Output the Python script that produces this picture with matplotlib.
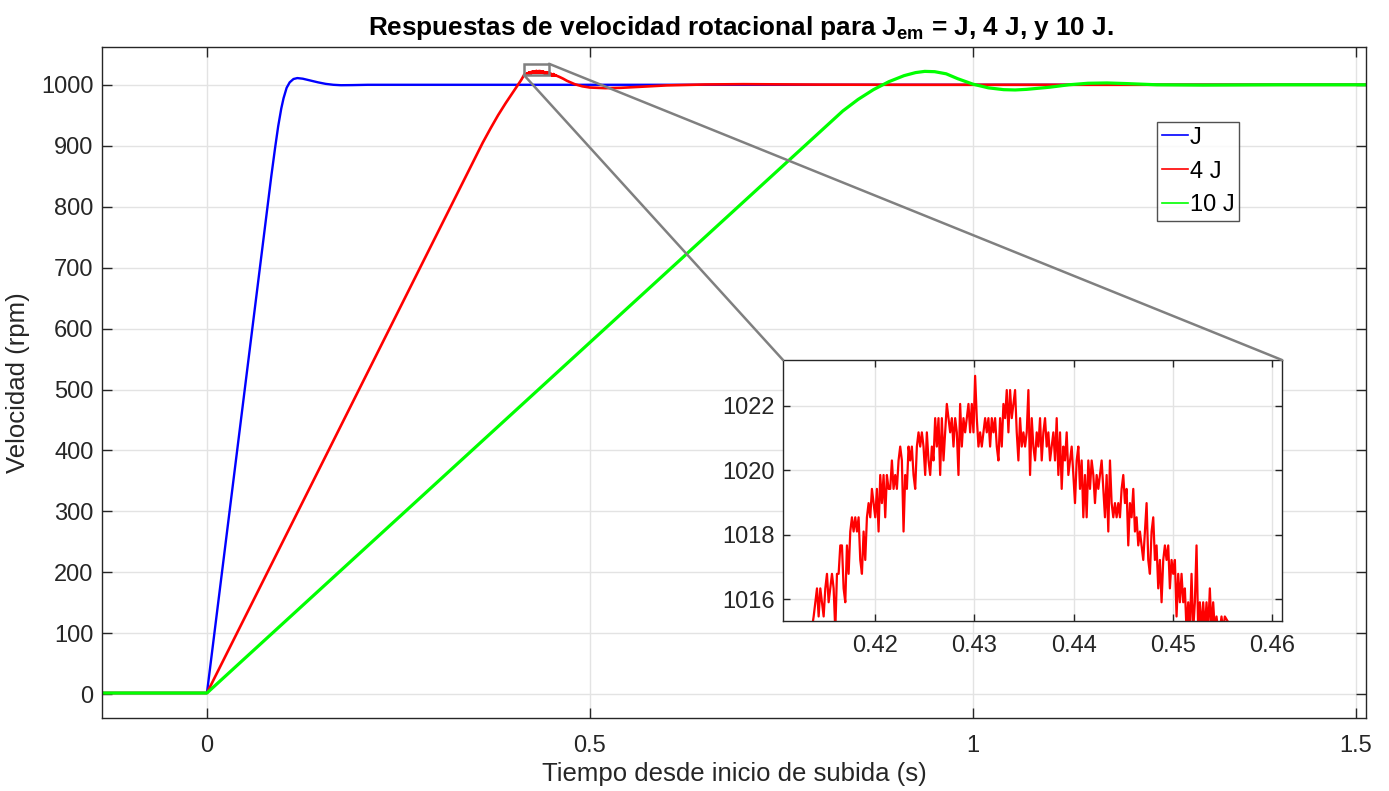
import numpy as np
import matplotlib
matplotlib.use("Agg")
import matplotlib.pyplot as plt
from matplotlib.patches import Rectangle, ConnectionPatch

plt.rcParams['font.family'] = ['Liberation Sans', 'DejaVu Sans']
plt.rcParams['mathtext.fontset'] = 'custom'
plt.rcParams['mathtext.rm'] = 'Liberation Sans'
plt.rcParams['mathtext.bf'] = 'Liberation Sans:bold'

# ---- speed responses (time in s, speed in rpm) ----
j_t = [-0.137, 0.0, 0.084, 0.089, 0.093, 0.097, 0.100, 0.104, 0.108, 0.113, 0.118,
       0.125, 0.135, 0.145, 0.155, 0.165, 0.175, 0.190, 0.210, 1.513]
j_v = [2, 2, 850, 897, 932, 961, 978, 995, 1004, 1009.5, 1011,
       1010, 1007, 1004, 1001.5, 1000, 999.3, 999.5, 1000, 1000]

j4_rise_t = [-0.137, 0.0, 0.360, 0.370, 0.380, 0.390, 0.398, 0.405, 0.410]
j4_rise_v = [2, 2, 905, 928, 950, 970, 985, 998, 1007.5]

# 4 J samples around the overshoot peak
j4_peak_t0 = 0.41379
j4_peak_dt = 1.678e-4
j4_peak_v = [
    1015.47, 1015.91, 1016.34, 1015.47, 1016.34, 1015.91, 1015.47, 1016.34, 1016.79, 1015.91,
    1016.34, 1016.79, 1016.34, 1015.03, 1016.79, 1016.79, 1017.67, 1017.67, 1016.34, 1015.91,
    1017.67, 1016.79, 1018.10, 1018.54, 1018.10, 1018.54, 1018.10, 1018.54, 1017.22, 1016.79,
    1018.10, 1017.22, 1018.54, 1018.98, 1018.54, 1019.42, 1018.98, 1018.54, 1019.42, 1018.10,
    1019.85, 1018.98, 1019.85, 1018.54, 1019.85, 1019.42, 1019.42, 1020.30, 1019.42, 1019.85,
    1019.42, 1020.30, 1020.73, 1020.30, 1018.10, 1019.85, 1019.42, 1020.73, 1020.30, 1020.73,
    1019.85, 1019.42, 1020.73, 1021.17, 1020.73, 1021.17, 1020.73, 1019.85, 1021.17, 1020.30,
    1019.85, 1020.73, 1020.30, 1021.61, 1020.73, 1021.61, 1019.85, 1021.61, 1020.30, 1021.17,
    1022.05, 1021.61, 1021.17, 1021.61, 1020.73, 1021.61, 1021.17, 1019.85, 1022.05, 1020.73,
    1021.61, 1021.17, 1021.61, 1022.05, 1021.17, 1022.05, 1021.17, 1022.92, 1021.61, 1020.73,
    1021.17, 1020.73, 1021.17, 1021.61, 1021.17, 1021.61, 1020.73, 1021.61, 1021.17, 1021.61,
    1020.73, 1020.30, 1021.61, 1020.73, 1022.05, 1021.61, 1022.48, 1021.17, 1022.48, 1021.61,
    1022.05, 1022.48, 1021.17, 1020.30, 1021.61, 1020.73, 1021.17, 1020.73, 1021.17, 1022.48,
    1019.85, 1021.61, 1020.73, 1020.30, 1021.17, 1020.73, 1021.61, 1020.30, 1021.17, 1021.61,
    1020.73, 1021.17, 1020.30, 1020.73, 1021.17, 1020.30, 1021.61, 1019.85, 1021.17, 1019.42,
    1020.73, 1020.30, 1021.17, 1019.85, 1020.30, 1020.73, 1019.85, 1018.98, 1020.30, 1020.73,
    1019.42, 1020.30, 1018.54, 1019.85, 1018.54, 1020.30, 1019.42, 1020.30, 1019.85, 1018.98,
    1019.85, 1019.42, 1019.85, 1020.30, 1019.42, 1018.54, 1019.85, 1018.10, 1020.30, 1018.98,
    1018.54, 1018.98, 1018.54, 1018.98, 1018.54, 1019.42, 1019.85, 1018.98, 1019.42, 1017.67,
    1018.98, 1018.54, 1019.42, 1018.10, 1018.54, 1017.67, 1018.10, 1017.67, 1017.22, 1018.10,
    1018.98, 1017.22, 1016.79, 1018.10, 1018.54, 1017.22, 1017.67, 1016.34, 1017.22, 1015.91,
    1017.22, 1017.67, 1017.22, 1017.67, 1016.34, 1017.22, 1016.79, 1017.22, 1015.47, 1016.79,
    1015.91, 1016.79, 1015.91, 1016.34, 1015.03, 1015.91, 1015.03, 1016.79, 1015.03, 1015.91,
    1017.67, 1015.03, 1015.91, 1015.03, 1015.91, 1015.03, 1015.91, 1015.03, 1016.34, 1015.03,
    1015.91, 1015.03, 1015.47, 1015.03, 1015.03, 1015.47, 1015.03, 1015.47,
]

j4_tail_t = [0.460, 0.465, 0.470, 0.480, 0.490, 0.500, 0.520, 0.540, 0.570, 0.600,
             0.650, 0.700, 0.800, 0.900, 1.513]
j4_tail_v = [1013, 1010, 1006.5, 1001, 997.5, 995.5, 994.5, 995, 997, 999,
             1000.5, 1001, 1000.3, 1000, 1000]

j10_t = [-0.137, 0.0, 0.830, 0.850, 0.870, 0.890, 0.910, 0.925, 0.937, 0.950,
         0.965, 0.980, 1.000, 1.020, 1.040, 1.055, 1.070, 1.100, 1.125, 1.150,
         1.175, 1.200, 1.240, 1.300, 1.400, 1.513]
j10_v = [2, 2, 957, 976, 992, 1005, 1015, 1020, 1022, 1021.5,
         1018, 1010, 1001, 995, 992, 991.5, 992.5, 996, 1000, 1002.5,
         1003, 1002, 1000, 999.5, 1000, 1000]

labels = ['J', '4 J', '10 J']
colors = ['#0000ff', '#ff0000', '#00ff00']

x_ticks = [0, 0.5, 1, 1.5]
x_ticklabels = ['0', '0.5', '1', '1.5']
y_ticks = list(range(0, 1001, 100))
inset_x_ticks = [0.42, 0.43, 0.44, 0.45, 0.46]
inset_x_ticklabels = ['0.42', '0.43', '0.44', '0.45', '0.46']
inset_y_ticks = [1016, 1018, 1020, 1022]

# assemble the 4 J trace
j4_peak_t = j4_peak_t0 + j4_peak_dt * np.arange(len(j4_peak_v))
j4_t = np.concatenate([j4_rise_t, j4_peak_t, j4_tail_t])
j4_v = np.concatenate([j4_rise_v, j4_peak_v, j4_tail_v])

W, H = 1389, 791
fig = plt.figure(figsize=(W / 100, H / 100), dpi=100)
ax = fig.add_axes([102 / W, 1 - 718 / H, (1366 - 102) / W, (718 - 47) / H])

ax.plot(j_t, j_v, color=colors[0], lw=1.7, label=labels[0])
ax.plot(j4_t, j4_v, color=colors[1], lw=1.9, label=labels[1])
ax.plot(j10_t, j10_v, color=colors[2], lw=2.3, label=labels[2])

ax.set_xlim(-0.137, 1.513)
ax.set_ylim(-39, 1062)
ax.set_xticks(x_ticks)
ax.set_xticklabels(x_ticklabels)
ax.set_yticks(y_ticks)

axis_col = '#262626'
for s in ax.spines.values():
    s.set_color(axis_col)
    s.set_linewidth(1.0)
ax.tick_params(direction='in', length=7, width=1.0, colors=axis_col,
               labelsize=17, top=True, right=True)
ax.tick_params(axis='x', pad=12)
ax.tick_params(axis='y', pad=6)
ax.grid(True, color='#e3e3e3', lw=1.0)
ax.set_axisbelow(True)

ax.set_xlabel('Tiempo desde inicio de subida (s)', fontsize=18.5, color=axis_col, labelpad=4)
ax.set_ylabel('Velocidad (rpm)', fontsize=18.5, color=axis_col, labelpad=8)
ax.set_title(r'Respuestas de velocidad rotacional para J$_{\mathbf{em}}$ = J, 4 J, y 10 J.',
             fontsize=18.8, fontweight='bold', pad=9, x=0.5055)

leg = ax.legend(loc='upper left', bbox_to_anchor=(1157 / W, 1 - 122 / H),
                bbox_transform=fig.transFigure, fontsize=17, frameon=True,
                fancybox=False, handlelength=1.1, handletextpad=0.1,
                labelspacing=0.5, borderpad=0.2, borderaxespad=0)
leg.get_frame().set_edgecolor(axis_col)
leg.get_frame().set_linewidth(1.0)
for ln in leg.get_lines():
    ln.set_linewidth(1.2)

# zoom indicator on the main axes
box_x0, box_x1 = 0.4138, 0.4465
box_y0, box_y1 = 1016, 1034.5
ax.add_patch(Rectangle((box_x0, box_y0), box_x1 - box_x0, box_y1 - box_y0,
                       fill=False, edgecolor='#808080', lw=1.8, zorder=5))

# inset with the 4 J overshoot peak
axin = fig.add_axes([783 / W, 1 - 621 / H, (1282 - 783) / W, (621 - 360) / H])
axin.plot(j4_t, j4_v, color=colors[1], lw=1.6)
axin.set_xlim(0.4107, 0.461)
axin.set_ylim(1015.33, 1023.41)
axin.set_xticks(inset_x_ticks)
axin.set_xticklabels(inset_x_ticklabels)
axin.set_yticks(inset_y_ticks)
for s in axin.spines.values():
    s.set_color(axis_col)
    s.set_linewidth(1.0)
axin.tick_params(direction='in', length=5, width=1.0, colors=axis_col,
                 labelsize=17, top=True, right=True)
axin.tick_params(axis='x', pad=10)
axin.tick_params(axis='y', pad=6)
axin.grid(True, color='#e3e3e3', lw=1.0)
axin.set_axisbelow(True)

for xyA, xyB in [((box_x0, box_y0), (0, 1)), ((box_x1, box_y1), (1, 1))]:
    con = ConnectionPatch(xyA=xyA, coordsA=ax.transData, xyB=xyB, coordsB=axin.transAxes,
                          color='#808080', lw=1.8, zorder=6)
    fig.add_artist(con)

fig.savefig('out.png', dpi=100)
